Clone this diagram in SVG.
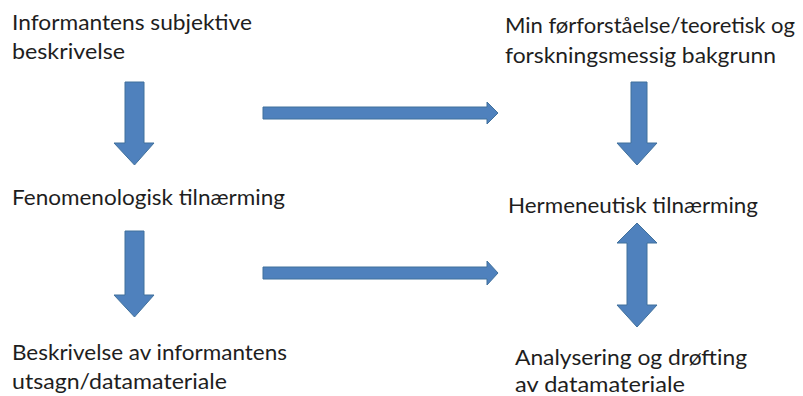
<svg xmlns="http://www.w3.org/2000/svg" width="803" height="396" viewBox="0 0 803 396">
<style>
text{font-family:Lato,"Open Sans","Liberation Sans",sans-serif;font-size:21px;fill:#1e1e1e}
.arr{fill:#4f81bd;stroke:#41719c;stroke-width:1}
</style>
<rect width="803" height="396" fill="#fff"/>
<g id="n1"><text x="12" y="30" textLength="240" lengthAdjust="spacingAndGlyphs">Informantens subjektive</text><text x="12" y="59" textLength="113" lengthAdjust="spacingAndGlyphs">beskrivelse</text></g>
<g id="n2"><text x="12" y="205" textLength="273" lengthAdjust="spacingAndGlyphs">Fenomenologisk tilnærming</text></g>
<g id="n3"><text x="12" y="360" textLength="275" lengthAdjust="spacingAndGlyphs">Beskrivelse av informantens</text><text x="12" y="389" textLength="215" lengthAdjust="spacingAndGlyphs">utsagn/datamateriale</text></g>
<g id="n4"><text x="505" y="33" textLength="290" lengthAdjust="spacingAndGlyphs">Min førforståelse/teoretisk og</text><text x="505" y="63" textLength="271" lengthAdjust="spacingAndGlyphs">forskningsmessig bakgrunn</text></g>
<g id="n5"><text x="508" y="213" textLength="250" lengthAdjust="spacingAndGlyphs">Hermeneutisk tilnærming</text></g>
<g id="n6"><text x="515" y="365" textLength="232" lengthAdjust="spacingAndGlyphs">Analysering og drøfting</text><text x="515" y="392" textLength="170" lengthAdjust="spacingAndGlyphs">av datamateriale</text></g>
<g id="connectors">
<polygon class="arr" points="125,82 144,82 144,143 154,143 134.5,165 114,143 125,143"/>
<polygon class="arr" points="125,231 144,231 144,295 154,295 134.5,317 114,295 125,295"/>
<polygon class="arr" points="631,82 647,82 647,143 657,143 637,165 617,143 631,143"/>
<polygon class="arr" points="263,107 487,107 487,102 498,113 487,124 487,119 263,119"/>
<polygon class="arr" points="263,267 487,267 487,261 498,273 487,285 487,279 263,279"/>
<polygon class="arr" points="637,223 657,243 647,243 647,305 657,305 637,327 617,305 627,305 627,243 617,243"/>
</g>
</svg>
